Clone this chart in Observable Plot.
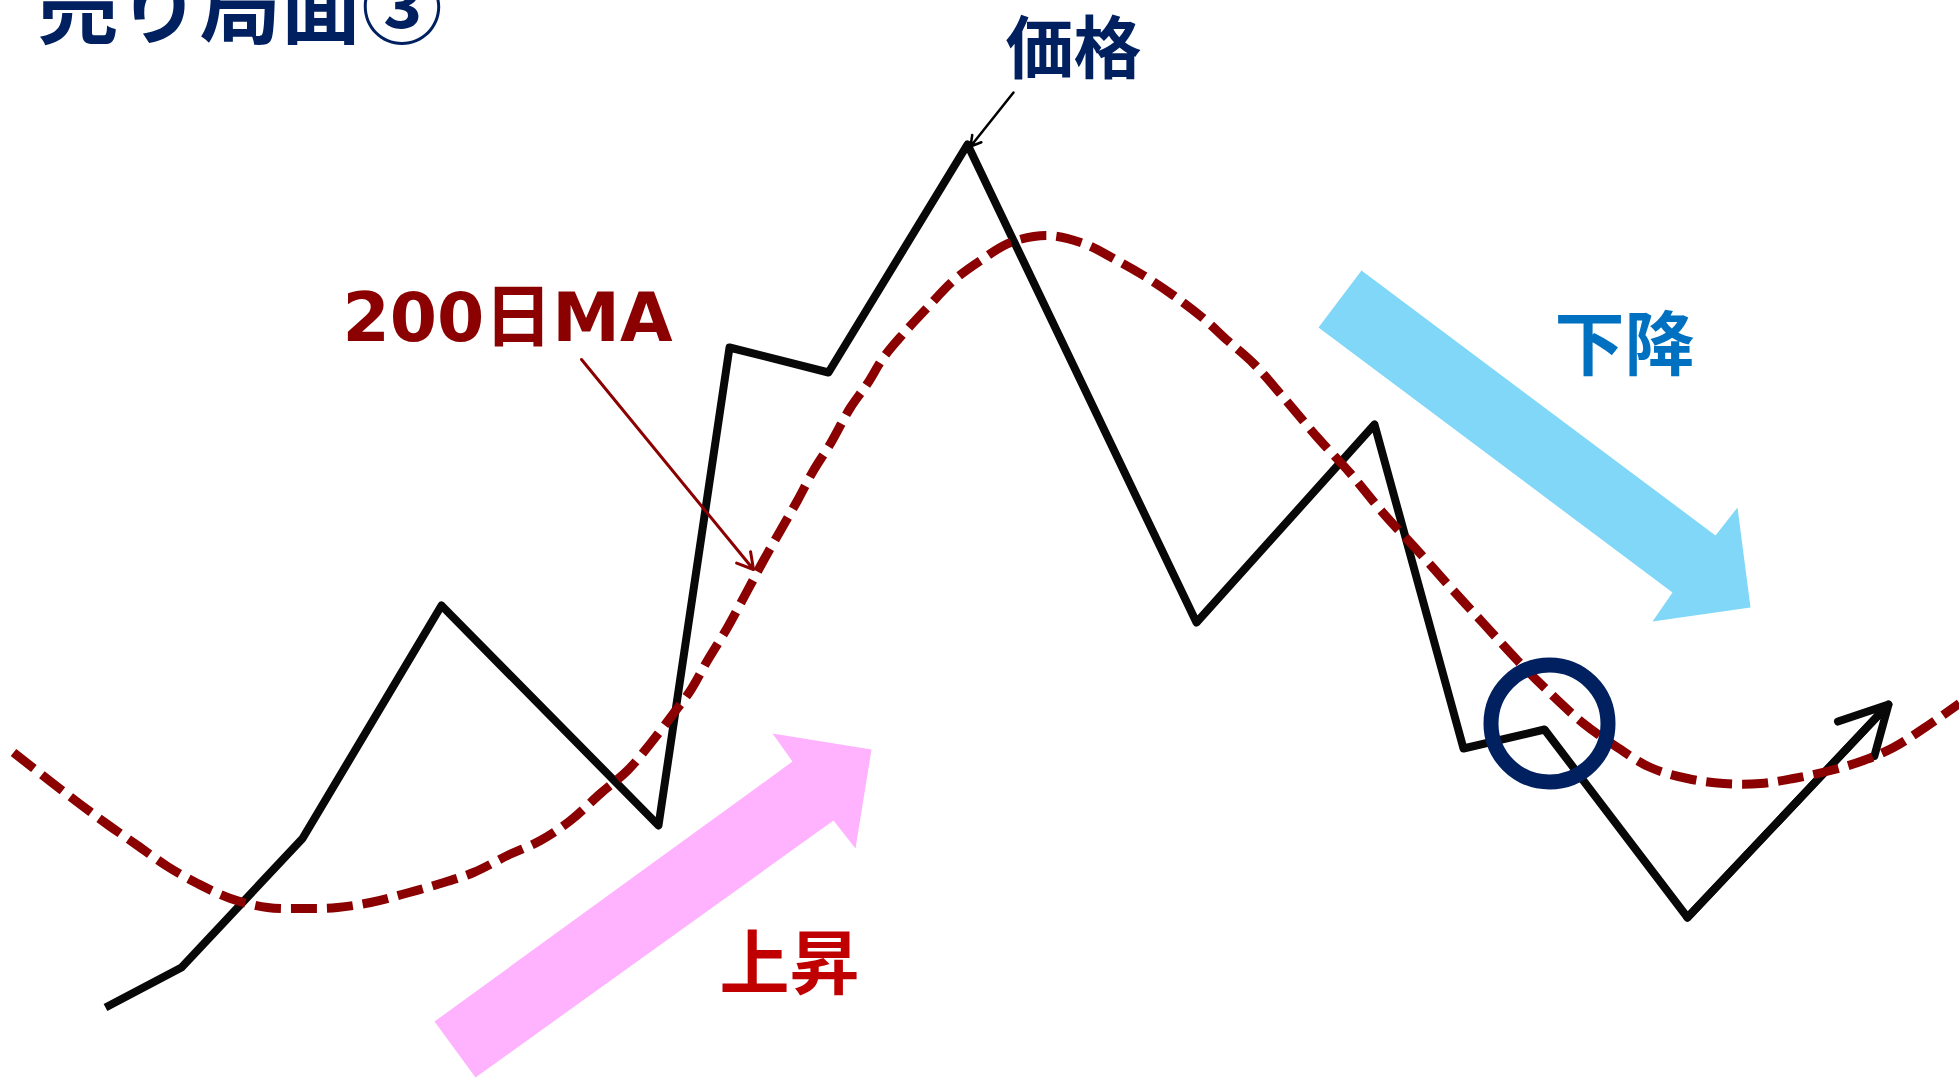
<!DOCTYPE html>
<html>
<head>
<meta charset="utf-8">
<script src="https://cdn.jsdelivr.net/npm/d3@7"></script>
<script src="https://cdn.jsdelivr.net/npm/@observablehq/plot@0.6"></script>
<style>
  html, body { margin: 0; padding: 0; background: #ffffff; overflow: hidden; }
  #chart svg { display: block; }
</style>
</head>
<body>
<div id="chart"></div>
<script>
// ---- data (time on x, price on y) ----
const priceTime  = [105, 181, 302, 441, 658, 729, 828, 967, 1196, 1374, 1463, 1544, 1687, 1888];
const priceValue = [71, 111, 240, 473, 253, 731, 706, 934, 456, 654, 330, 349, 161, 374];

const maTime  = [13, 50, 80, 107, 137, 167, 197, 230, 267, 303, 337, 370, 405, 440, 473, 507, 540, 570, 600, 627, 650, 673, 690, 707, 727, 747, 763, 780, 797, 813, 830, 850, 867, 883, 903, 927, 953, 980, 1010, 1047, 1083, 1113, 1143, 1173, 1203, 1227, 1253, 1283, 1317, 1350, 1383, 1417, 1450, 1483, 1517, 1550, 1583, 1617, 1650, 1687, 1723, 1760, 1793, 1830, 1863, 1893, 1923, 1959];
const maValue = [326, 297, 274, 254, 233, 212, 195, 180, 171, 170, 171, 176, 185, 195, 206, 223, 238, 258, 285, 308, 335, 365, 388, 418, 451, 488, 518, 548, 578, 608, 635, 671, 695, 721, 745, 771, 798, 818, 836, 843, 835, 820, 803, 783, 760, 738, 715, 681, 641, 605, 565, 528, 491, 455, 418, 385, 355, 331, 311, 300, 295, 295, 300, 308, 318, 331, 350, 375];

// big trend arrows (outline vertices)
const upArrowTime    = [434, 792, 772, 871, 855, 833, 475];
const upArrowValue   = [57, 317, 345, 329, 230, 258, 1];
const downArrowTime  = [1361, 1318, 1672, 1652, 1750, 1737, 1715];
const downArrowValue = [808, 751, 486, 457, 471, 571, 543];

// dead-cross marker
const crossTime = [1549];
const crossValue = [355];

// callout pointers [from, to]
const pricePointerTime  = [1013, 970];
const pricePointerValue = [986, 932];
const maPointerTime  = [581, 753];
const maPointerValue = [719, 509];

// labels
const titleText = "売り局面③";
const titleTime = 37, titleValue = 1042;
const priceLabel = "価格", priceLabelTime = 1073, priceLabelValue = 1006;
const maLabel = "200日MA", maLabelTime = 507, maLabelValue = 738;
const upLabel = "上昇", upLabelTime = 789, upLabelValue = 90;
const downLabel = "下降", downLabelTime = 1624, downLabelValue = 709;

// ---- build tables ----
const price = priceTime.map((t, i) => ({t, v: priceValue[i]}));
const ma = maTime.map((t, i) => ({t, v: maValue[i]}));
const upArrow = upArrowTime.map((t, i) => ({t, v: upArrowValue[i]}));
const downArrow = downArrowTime.map((t, i) => ({t, v: downArrowValue[i]}));
const cross = crossTime.map((t, i) => ({t, v: crossValue[i]}));
const n = price.length;
const lastSeg = [{x1: priceTime[n - 2], y1: priceValue[n - 2], x2: priceTime[n - 1], y2: priceValue[n - 1]}];
const pricePtr = [{x1: pricePointerTime[0], y1: pricePointerValue[0], x2: pricePointerTime[1], y2: pricePointerValue[1]}];
const maPtr = [{x1: maPointerTime[0], y1: maPointerValue[0], x2: maPointerTime[1], y2: maPointerValue[1]}];

const jp = "'Noto Sans CJK JP', 'Noto Sans', sans-serif";
const mixed = "'DejaVu Sans', 'Noto Sans CJK JP', sans-serif";

const chart = Plot.plot({
  width: 1959,
  height: 1078,
  marginTop: 0, marginRight: 0, marginBottom: 0, marginLeft: 0,
  x: {domain: [0, 1959], axis: null},
  y: {domain: [0, 1078], axis: null},
  style: {background: "#ffffff", overflow: "hidden"},
  marks: [
    // trend arrows
    Plot.line(upArrow, {x: "t", y: "v", fill: "#ffb3fe", stroke: "none", curve: "linear-closed"}),
    Plot.line(downArrow, {x: "t", y: "v", fill: "#80d7f7", stroke: "none", curve: "linear-closed"}),
    // price line
    Plot.line(price, {x: "t", y: "v", stroke: "#080808", strokeWidth: 8, strokeLinejoin: "round", strokeLinecap: "butt"}),
    Plot.arrow(lastSeg, {x1: "x1", y1: "y1", x2: "x2", y2: "y2", stroke: "#080808", strokeWidth: 8, headLength: 10, headAngle: 56, strokeLinecap: "round", strokeLinejoin: "round"}),
    // 200-day moving average
    Plot.line(ma, {x: "t", y: "v", stroke: "#8b0000", strokeWidth: 9, strokeDasharray: "26,10", curve: "catmull-rom", strokeLinecap: "butt"}),
    // dead-cross circle
    Plot.dot(cross, {x: "t", y: "v", r: 58.5, stroke: "#002060", strokeWidth: 15, fill: "none"}),
    // callout pointers
    Plot.arrow(pricePtr, {x1: "x1", y1: "y1", x2: "x2", y2: "y2", stroke: "#000000", strokeWidth: 2.5, headLength: 7, headAngle: 60}),
    Plot.arrow(maPtr, {x1: "x1", y1: "y1", x2: "x2", y2: "y2", stroke: "#8b0000", strokeWidth: 3, headLength: 9, headAngle: 60}),
    // labels
    Plot.text([titleText], {x: () => titleTime, y: () => titleValue, text: d => d, textAnchor: "start", lineAnchor: "bottom", fontSize: 81, fontWeight: "bold", fontFamily: jp, fill: "#002060"}),
    Plot.text([priceLabel], {x: () => priceLabelTime, y: () => priceLabelValue, text: d => d, textAnchor: "middle", lineAnchor: "bottom", fontSize: 68, fontWeight: "bold", fontFamily: jp, fill: "#002060"}),
    Plot.text([maLabel], {x: () => maLabelTime, y: () => maLabelValue, text: d => d, textAnchor: "middle", lineAnchor: "bottom", fontSize: 68, fontWeight: "bold", fontFamily: mixed, fill: "#8b0000"}),
    Plot.text([upLabel], {x: () => upLabelTime, y: () => upLabelValue, text: d => d, textAnchor: "middle", lineAnchor: "bottom", fontSize: 70, fontWeight: "bold", fontFamily: jp, fill: "#c00000"}),
    Plot.text([downLabel], {x: () => downLabelTime, y: () => downLabelValue, text: d => d, textAnchor: "middle", lineAnchor: "bottom", fontSize: 70, fontWeight: "bold", fontFamily: jp, fill: "#0070c0"})
  ]
});
document.getElementById("chart").appendChild(chart);
</script>
</body>
</html>
